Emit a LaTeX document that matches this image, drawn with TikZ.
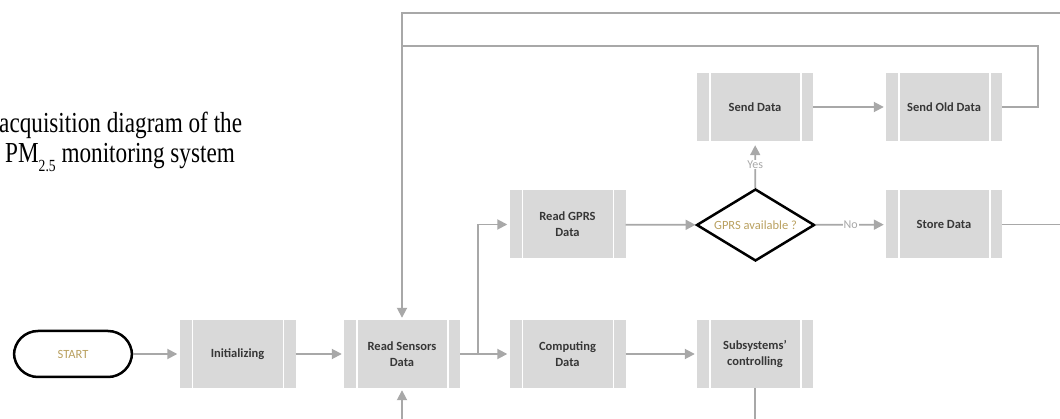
\documentclass[tikz,border=0pt]{standalone}
\usepackage{fontspec}
\setsansfont{Carlito}
\newfontfamily\capfont[FakeStretch=0.8]{Liberation Serif}
\usetikzlibrary{shapes.geometric,arrows.meta}
\definecolor{boxgray}{RGB}{217,217,217}
\definecolor{linegray}{RGB}{168,168,168}
\definecolor{labgray}{RGB}{55,55,55}
\definecolor{gold}{RGB}{185,160,95}

\begin{document}
\begin{tikzpicture}[x=1pt,y=-1pt,
  procbox/.style={fill=boxgray, minimum width=116pt, minimum height=68pt, inner sep=0pt,
    align=center, text=labgray, font=\sffamily\bfseries\fontsize{12.5}{16}\selectfont,
    path picture={
      \draw[white,line width=1.5pt] ([xshift=13pt]path picture bounding box.north west) -- ([xshift=13pt]path picture bounding box.south west);
      \draw[white,line width=1.5pt] ([xshift=-12pt]path picture bounding box.north east) -- ([xshift=-12pt]path picture bounding box.south east);}},
  flow/.style={draw=linegray, line width=1.8pt},
  flowarr/.style={flow, -{Triangle[length=10pt,width=10pt]}, shorten >=2pt},
  choice/.style={fill=white, text=linegray, inner sep=1pt, font=\sffamily\fontsize{12}{14}\selectfont},
  captext/.style={anchor=base west, inner sep=0pt, font=\capfont\fontsize{29}{30}\selectfont}]
\useasboundingbox (0,0) rectangle (1060,419);

% caption
\node[captext] (cap1) at (-1,133) {acquisition diagram of the};
\node[captext] (cap2) at (5,163) {PM\raisebox{-9pt}{\fontsize{17}{17}\selectfont 2.5} monitoring system};

% steps
\node[draw=black, line width=2.5pt, rounded corners=24pt, minimum width=118pt, minimum height=46pt,
  text=gold, font=\sffamily\fontsize{12.5}{15}\selectfont] (start) at (73,354) {START};
\node[procbox] (init) at (237.5,354) {Initializing};
\node[procbox] (sensors) at (402,354) {Read Sensors\\Data};
\node[procbox] (compute) at (567.5,354) {Computing\\Data};
\node[procbox] (subsys) at (755,354) {Subsystems'\\controlling};
\node[procbox] (gprs) at (567.5,224.5) {Read GPRS\\Data};
\node[shape=diamond, aspect=1.63, draw=black, line width=2.5pt, minimum width=118pt, minimum height=72pt, inner sep=0pt,
  text=gold, font=\sffamily\fontsize{12.5}{15}\selectfont] (avail) at (755.5,225) {GPRS available ?};
\node[procbox] (store) at (944,224.5) {Store Data};
\node[procbox] (send) at (755,107) {Send Data};
\node[procbox] (sendold) at (944,107) {Send Old Data};

% turning points
\coordinate (split) at (478,354);
\coordinate (innerturn) at (1038,46);
\coordinate (innerleft) at (402,46);
\coordinate (outerturn) at (1085,13);
\coordinate (outerleft) at (402,13);
\coordinate (botturn) at (755,445);

\draw[flowarr] (start) -- (init);
\draw[flowarr] (init) -- (sensors);
\draw[flowarr] (sensors) -- (compute);
\draw[flowarr] (split) |- (gprs);
\draw[flowarr, shorten >=0pt] (gprs) -- (avail);
\draw[flowarr] (avail) -- node[choice] {No} (store);
\draw[flowarr, shorten >=4pt] (avail) -- node[choice] {Yes} (send);
\draw[flowarr] (send) -- (sendold);
\draw[flowarr] (compute) -- (subsys);
\draw[flowarr] (sendold.east) -| (innerturn) -- (innerleft) -- (sensors.north);
\draw[flow] (store.east) -| (outerturn) -- (outerleft) -- (innerleft);
\draw[flowarr] (subsys.south) -- (botturn) -| (sensors.south);
\end{tikzpicture}
\end{document}
